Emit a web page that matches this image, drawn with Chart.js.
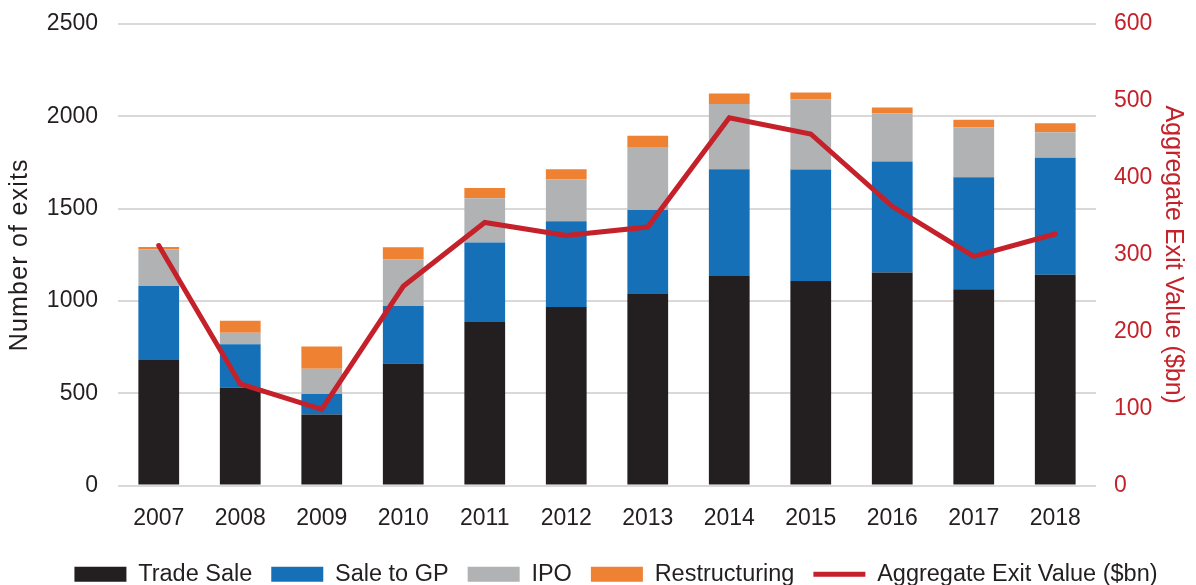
<!DOCTYPE html>
<html>
<head>
<meta charset="utf-8">
<title>Exits by type</title>
<script src="https://cdn.jsdelivr.net/npm/chart.js@4.4.1/dist/chart.umd.min.js"></script>
<style>
  html, body { margin: 0; padding: 0; background: #fff; }
  #wrap { width: 1196px; height: 585px; position: relative; }
</style>
</head>
<body>
<div id="wrap"><canvas id="chart"></canvas></div>
<script>
const years = ['2007','2008','2009','2010','2011','2012','2013','2014','2015','2016','2017','2018'];

// exit counts by route
const tradeSale     = [680, 529, 385, 661, 886, 967, 1038, 1135, 1108, 1154, 1063, 1141];
const saleToGP      = [401, 236, 111, 312, 430, 465, 455, 578, 604, 601, 607, 634];
const ipo           = [199, 62, 136, 253, 240, 227, 341, 353, 381, 261, 271, 139];
const restructuring = [12, 65, 121, 65, 56, 54, 60, 57, 36, 32, 40, 49];

// aggregate exit value, $bn (right axis)
const exitValue = [312, 132, 99, 259, 342, 325, 336, 478, 457, 363, 298, 327];

const RED = '#C4212A';
const INK = '#231F20';
const FONT = "'Liberation Sans', Arial, sans-serif";

const bar = (label, data, color) => ({
  type: 'bar', label, data, backgroundColor: color,
  borderWidth: 0, yAxisID: 'y', order: 2, pointStyle: 'rect',
  barPercentage: 0.5, categoryPercentage: 1
});

// the left axis title is set a little wider than plain text
const spacedTitle = {
  id: 'spacedTitle',
  beforeDraw(chart) {
    const s = chart.scales.y;
    if (!s || s._spaced) return;
    const orig = s.drawTitle;
    s.drawTitle = function () {
      this.ctx.letterSpacing = '1.2px';
      orig.call(this);
      this.ctx.letterSpacing = '0px';
    };
    s._spaced = true;
  }
};

// nudge the legend row right and down a bit
const legendShift = {
  id: 'legendShift',
  afterLayout(chart) {
    const lg = chart.legend;
    lg.left += 18; lg.right += 18;
    lg.top += 11; lg.bottom += 11;
  }
};

// keep the top gridline close to the canvas edge
const tightTop = s => { s.paddingTop = 24; };

new Chart(document.getElementById('chart'), {
  data: {
    labels: years,
    datasets: [
      bar('Trade Sale', tradeSale, INK),
      bar('Sale to GP', saleToGP, '#1570B8'),
      bar('IPO', ipo, '#B1B2B4'),
      bar('Restructuring', restructuring, '#EF8133'),
      {
        type: 'line', label: 'Aggregate Exit Value ($bn)', data: exitValue,
        borderColor: RED, backgroundColor: RED, borderWidth: 5,
        borderCapStyle: 'round', borderJoinStyle: 'miter',
        pointRadius: 0, pointStyle: 'line', tension: 0,
        yAxisID: 'y1', order: 1
      }
    ]
  },
  plugins: [spacedTitle, legendShift],
  options: {
    responsive: true,
    maintainAspectRatio: false,
    animation: false,
    layout: { padding: { top: 0, left: 0, right: 0, bottom: 0 } },
    plugins: {
      tooltip: { enabled: false },
      legend: {
        position: 'bottom',
        labels: {
          usePointStyle: true,
          pointStyleWidth: 52,
          boxHeight: 15,
          padding: 19,
          color: INK,
          font: { family: FONT, size: 23.5 },
          sort: (a, b) => a.datasetIndex - b.datasetIndex
        }
      }
    },
    scales: {
      x: {
        stacked: true,
        grid: { display: false, drawTicks: false },
        border: { display: false },
        ticks: { color: INK, padding: 19, font: { family: FONT, size: 23 } },
        afterFit: s => { s.height = 47; }
      },
      y: {
        stacked: true, position: 'left',
        min: 0, max: 2500,
        ticks: {
          stepSize: 500, padding: 20, color: INK,
          font: { family: FONT, size: 23 },
          callback: v => String(v)
        },
        grid: { color: '#D9D9D9', lineWidth: 2, drawTicks: false },
        border: { display: false },
        title: { display: true, text: 'Number of exits', color: INK, font: { family: FONT, size: 25 }, padding: { top: 5 } },
        afterFit: s => { s.width = 118; tightTop(s); }
      },
      y1: {
        position: 'right',
        min: 0, max: 600,
        ticks: {
          stepSize: 100, padding: 18, color: RED,
          font: { family: FONT, size: 23 },
          callback: v => String(v)
        },
        grid: { display: false, drawTicks: false },
        border: { display: false },
        title: { display: true, text: 'Aggregate Exit Value ($bn)', color: RED, font: { family: FONT, size: 25 }, padding: { top: 8 } },
        afterFit: s => { s.width = 100; tightTop(s); }
      }
    }
  }
});
</script>
</body>
</html>
